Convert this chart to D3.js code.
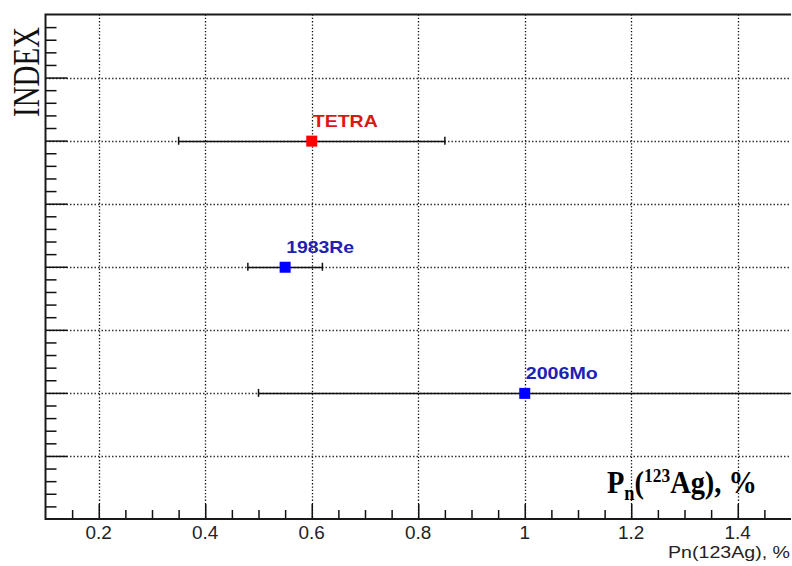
<!DOCTYPE html>
<html>
<head>
<meta charset="utf-8">
<script src="https://cdn.jsdelivr.net/npm/d3@7"></script>
<style>
  html, body { margin: 0; padding: 0; background: #fff; }
  svg { display: block; }
</style>
</head>
<body>
<svg id="chart" width="792" height="566"></svg>
<script>
// ---- data ----
const names  = ["TETRA", "1983Re", "2006Mo"];
const index  = [6, 4, 2];
const values = [0.6, 0.55, 1.0];
const errLo  = [0.35, 0.48, 0.5];
const errHi  = [0.85, 0.62, 1.6];
const colors = ["#ff0000", "#0000ff", "#0000ff"];
const labelColors = ["#dd1515", "#2020b4", "#2020b4"];
const xTicks = [0.2, 0.4, 0.6, 0.8, 1, 1.2, 1.4];
const xTickLabels = ["0.2", "0.4", "0.6", "0.8", "1", "1.2", "1.4"];
const xDomain = [0.1, 1.5];
const yDomain = [0, 8];

// ---- layout ----
const svg = d3.select("#chart");
const L = 45.5, R = 791, T = 14.5, B = 519;
const x = d3.scaleLinear().domain(xDomain).range([L, R]);
const y = d3.scaleLinear().domain(yDomain).range([B, T]);

svg.append("defs").append("clipPath").attr("id", "clip")
  .append("rect").attr("x", L).attr("y", T).attr("width", R - L).attr("height", B - T);

// grid
const gridX = xTicks;
const gridY = d3.range(1, 8);
svg.append("g").selectAll("line").data(gridX).join("line")
  .attr("x1", d => Math.round(x(d)) + 0.5).attr("x2", d => Math.round(x(d)) + 0.5)
  .attr("y1", T).attr("y2", B)
  .attr("stroke", "#111").attr("stroke-width", 1.3).attr("stroke-dasharray", "1.3,2");
svg.append("g").selectAll("line").data(gridY).join("line")
  .attr("x1", L).attr("x2", R)
  .attr("y1", d => Math.round(y(d)) + 0.5).attr("y2", d => Math.round(y(d)) + 0.5)
  .attr("stroke", "#333").attr("stroke-width", 1.3).attr("stroke-dasharray", "1.5,2");

// x axis ticks (inward)
const xMinor = d3.range(0.15, 1.5, 0.05).filter(v => Math.abs(v / 0.2 - Math.round(v / 0.2)) > 1e-6);
const xAxisMajor = d3.axisTop(x).tickValues(xTicks).tickSize(15).tickFormat("");
const xAxisMinor = d3.axisTop(x).tickValues(xMinor).tickSize(9).tickFormat("");
const gxM = svg.append("g").attr("transform", `translate(0,${B})`).call(xAxisMajor);
const gxm = svg.append("g").attr("transform", `translate(0,${B})`).call(xAxisMinor);
[gxM, gxm].forEach(g => {
  g.select(".domain").remove();
  g.selectAll("line").attr("stroke", "#111").attr("stroke-width", 1.5);
});

// y axis ticks (inward)
const yMinor = d3.range(0.2, 8, 0.2).filter(v => Math.abs(v - Math.round(v)) > 1e-6);
const yAxisMajor = d3.axisRight(y).tickValues(d3.range(1, 8)).tickSize(22).tickFormat("");
const yAxisMinor = d3.axisRight(y).tickValues(yMinor).tickSize(11).tickFormat("");
const gyM = svg.append("g").attr("transform", `translate(${L},0)`).call(yAxisMajor);
const gym = svg.append("g").attr("transform", `translate(${L},0)`).call(yAxisMinor);
[gyM, gym].forEach(g => {
  g.select(".domain").remove();
  g.selectAll("line").attr("stroke", "#111").attr("stroke-width", 1.5);
});

// frame
svg.append("path")
  .attr("d", `M${R},${T}H${L}V${B}H${R}`)
  .attr("fill", "none").attr("stroke", "#1a1a1a").attr("stroke-width", 2);

// tick labels
const tl = svg.append("g").selectAll("text").data(xTicks).join("text")
  .attr("x", d => x(d)).attr("y", 539)
  .attr("text-anchor", "middle")
  .attr("font-family", "Liberation Sans, Arial, sans-serif")
  .attr("font-size", 17.5).attr("fill", "#222")
  .text((d, i) => xTickLabels[i]);
tl.each(function () {
  const w = this.getComputedTextLength();
  d3.select(this).attr("textLength", w * 1.08).attr("lengthAdjust", "spacingAndGlyphs");
});

// error bars + points
const data = names.map((n, i) => ({ n, i, idx: index[i], v: values[i], lo: errLo[i], hi: errHi[i] }));
const gp = svg.append("g").attr("clip-path", "url(#clip)");
gp.selectAll("line.bar").data(data).join("line").attr("class", "bar")
  .attr("x1", d => x(d.lo)).attr("x2", d => x(d.hi))
  .attr("y1", d => Math.round(y(d.idx)) + 0.5).attr("y2", d => Math.round(y(d.idx)) + 0.5)
  .attr("stroke", "#111").attr("stroke-width", 1.5);
gp.selectAll("line.capL").data(data).join("line").attr("class", "capL")
  .attr("x1", d => x(d.lo)).attr("x2", d => x(d.lo))
  .attr("y1", d => y(d.idx) - 4).attr("y2", d => y(d.idx) + 4)
  .attr("stroke", "#111").attr("stroke-width", 1.5);
gp.selectAll("line.capR").data(data).join("line").attr("class", "capR")
  .attr("x1", d => x(d.hi)).attr("x2", d => x(d.hi))
  .attr("y1", d => y(d.idx) - 4).attr("y2", d => y(d.idx) + 4)
  .attr("stroke", "#111").attr("stroke-width", 1.5);
gp.selectAll("rect.pt").data(data).join("rect").attr("class", "pt")
  .attr("x", d => x(d.v) - 5.5).attr("y", d => y(d.idx) - 5)
  .attr("width", 11).attr("height", 11)
  .attr("fill", d => colors[d.i]);

// point labels
const labelWidths = [65, 68, 72];
svg.append("g").selectAll("text").data(data).join("text")
  .attr("x", d => x(d.v) + 1).attr("y", d => y(d.idx) - 14)
  .attr("font-family", "Liberation Sans, Arial, sans-serif")
  .attr("font-weight", "bold").attr("font-size", 17)
  .attr("fill", d => labelColors[d.i])
  .attr("textLength", d => labelWidths[d.i]).attr("lengthAdjust", "spacingAndGlyphs")
  .text(d => d.n);

// y title
svg.append("text")
  .attr("transform", "translate(39,72) rotate(-90)")
  .attr("text-anchor", "middle")
  .attr("font-family", "Liberation Serif, Times New Roman, serif")
  .attr("font-size", 38).attr("fill", "#111")
  .attr("textLength", 90).attr("lengthAdjust", "spacingAndGlyphs")
  .text("INDEX");

// x title (small)
svg.append("text")
  .attr("x", 790).attr("y", 558)
  .attr("text-anchor", "end")
  .attr("font-family", "Liberation Sans, Arial, sans-serif")
  .attr("font-size", 17).attr("fill", "#222")
  .attr("textLength", 122).attr("lengthAdjust", "spacingAndGlyphs")
  .text("Pn(123Ag), %");

// big x title
const big = svg.append("text")
  .attr("x", 0).attr("y", 0)
  .attr("font-family", "Liberation Serif, Times New Roman, serif")
  .attr("font-weight", "bold").attr("fill", "#000");
big.append("tspan").attr("font-size", 31).text("P");
big.append("tspan").attr("font-size", 20).attr("dy", 7).text("n");
big.append("tspan").attr("font-size", 31).attr("dy", -7).text("(");
big.append("tspan").attr("font-size", 19).attr("dy", -11).text("123");
big.append("tspan").attr("font-size", 31).attr("dy", 11).text("Ag), %");
const bb = big.node().getBBox();
const sx = 150 / bb.width;
big.attr("transform", `translate(${607 - bb.x * sx},493) scale(${sx},1)`);
</script>
</body>
</html>
